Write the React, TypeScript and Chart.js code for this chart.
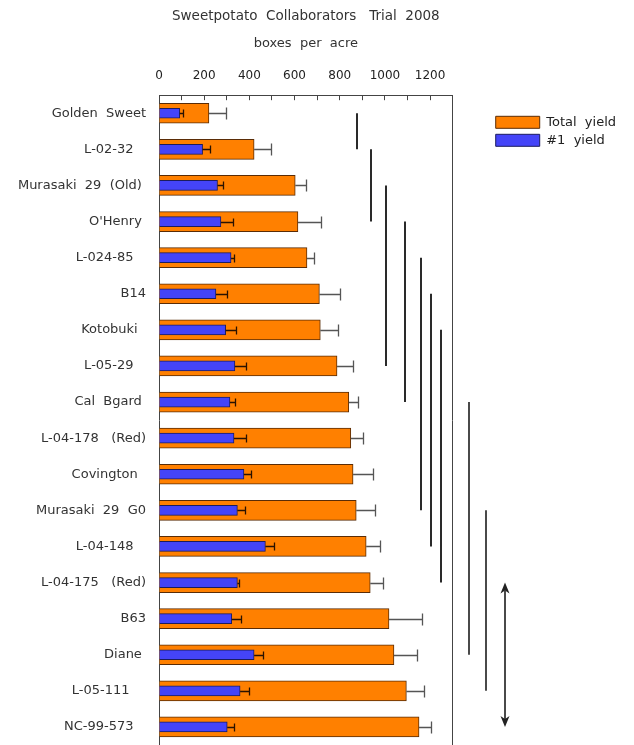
import React, { useEffect, useRef } from 'react';
import { Chart, registerables } from 'chart.js';

Chart.register(...registerables);

// ---- data ----
const categories = [
  'Golden  Sweet',
  'L-02-32',
  'Murasaki  29  (Old)',
  "O'Henry",
  'L-024-85',
  'B14',
  'Kotobuki',
  'L-05-29',
  'Cal  Bgard',
  'L-04-178   (Red)',
  'Covington',
  'Murasaki  29  G0',
  'L-04-148',
  'L-04-175   (Red)',
  'B63',
  'Diane',
  'L-05-111',
  'NC-99-573',
];
const totalYield = [221, 421, 603, 615, 655, 710, 714, 788, 840, 849, 859, 873, 917, 935, 1018, 1040, 1095, 1151];
const totalErr = [75, 75, 49, 102, 30, 90, 77, 70, 42, 55, 89, 83, 61, 58, 148, 101, 76, 55];
const no1Yield = [92, 193, 259, 274, 319, 252, 295, 336, 314, 332, 376, 347, 471, 347, 322, 421, 359, 302];
const no1Err = [15, 32, 23, 52, 13, 50, 46, 49, 22, 53, 30, 34, 40, 9, 40, 39, 41, 31];
const xTickLabels = [0, 200, 400, 600, 800, 1000, 1200];
// significance groups (first and last category index of each group)
const groupStart = [0, 1, 2, 3, 4, 5, 6, 8, 11, 13];
const groupEnd = [1, 3, 7, 8, 11, 12, 13, 15, 16, 17];

// ---- style-only (label right-edge offsets and group column placement) ----
const labelTrail = [0, 3, 1, 1, 3, 0, 2, 3, 1, 0, 2, 0, 3, 0, 0, 1, 4, 3];
const groupColumnX = [877, 940, 1003, 1088, 1161, 1205, 1248, 1373, 1448, 1533];

const errorBarPlugin = {
  id: 'errorBars',
  afterDatasetsDraw(chart: any) {
    const ctx = chart.ctx;
    const xs = chart.scales.x;
    chart.data.datasets.forEach((ds: any, di: number) => {
      const meta = chart.getDatasetMeta(di);
      const errs: number[] = ds.errors;
      const cap = ds.capHalf;
      ctx.save();
      ctx.strokeStyle = ds.errorColor;
      ctx.lineWidth = 1.3;
      meta.data.forEach((bar: any, i: number) => {
        const x0 = bar.x;
        const y = Math.round(bar.y) + 0.5;
        const x1 = Math.round(xs.getPixelForValue(ds.data[i] + errs[i])) + 0.5;
        ctx.beginPath();
        ctx.moveTo(x0, y);
        ctx.lineTo(x1, y);
        ctx.moveTo(x1, y - cap);
        ctx.lineTo(x1, y + cap);
        ctx.stroke();
      });
      ctx.restore();
    });
  },
};

const groupLinesPlugin = {
  id: 'groupLines',
  afterDraw(chart: any) {
    const ctx = chart.ctx;
    const xs = chart.scales.x;
    const ys = chart.scales.y;
    ctx.save();
    groupStart.forEach((s, i) => {
      const x = Math.round(xs.getPixelForValue(groupColumnX[i]));
      const y1 = ys.getPixelForValue(s);
      const y2 = ys.getPixelForValue(groupEnd[i]);
      const isArrow = i === groupStart.length - 1;
      ctx.strokeStyle = groupColumnX[i] > 1300 ? '#4a4a4a' : '#2a2a2a';
      ctx.fillStyle = '#222';
      ctx.lineWidth = 2;
      ctx.beginPath();
      if (isArrow) {
        ctx.moveTo(x, y1 + 8);
        ctx.lineTo(x, y2 - 8);
        ctx.stroke();
        ctx.beginPath();
        ctx.moveTo(x, y1);
        ctx.lineTo(x - 4.5, y1 + 11);
        ctx.lineTo(x, y1 + 8);
        ctx.lineTo(x + 4.5, y1 + 11);
        ctx.closePath();
        ctx.fill();
        ctx.beginPath();
        ctx.moveTo(x, y2);
        ctx.lineTo(x - 4.5, y2 - 11);
        ctx.lineTo(x, y2 - 8);
        ctx.lineTo(x + 4.5, y2 - 11);
        ctx.closePath();
        ctx.fill();
      } else {
        ctx.moveTo(x, y1);
        ctx.lineTo(x, y2);
        ctx.stroke();
      }
    });
    ctx.restore();
  },
};

export default function App() {
  const canvasRef = useRef<HTMLCanvasElement | null>(null);

  useEffect(() => {
    document.documentElement.style.overflow = 'hidden';
    document.body.style.overflow = 'hidden';
    const canvas = canvasRef.current;
    if (!canvas) return;
    const font = 'DejaVu Sans';
    const chart = new Chart(canvas, {
      type: 'bar',
      data: {
        labels: categories,
        datasets: [
          {
            label: 'Total  yield',
            data: totalYield,
            errors: totalErr,
            errorColor: '#555555',
            capHalf: 6,
            backgroundColor: '#ff8000',
            borderColor: '#5a2c06',
            borderWidth: 1,
            barThickness: 20,
            grouped: false,
            order: 1,
          } as any,
          {
            label: '#1  yield',
            data: no1Yield,
            errors: no1Err,
            errorColor: '#2a1200',
            capHalf: 4,
            backgroundColor: '#4444f8',
            borderColor: '#1c1c5e',
            borderWidth: 1,
            barThickness: 10,
            grouped: false,
            order: 0,
          } as any,
        ],
      },
      options: {
        indexAxis: 'y',
        responsive: false,
        animation: false,
        font: { family: font },
        layout: { padding: 0 },
        scales: {
          x: {
            type: 'linear',
            position: 'top',
            min: 0,
            max: 1300,
            ticks: {
              stepSize: 100,
              autoSkip: false,
              maxRotation: 0,
              padding: 17,
              color: '#222',
              font: { family: font, size: 12 },
              callback: (v: any) => (xTickLabels.includes(Number(v)) ? String(v) : ''),
            },
            grid: { drawOnChartArea: false, drawTicks: true, tickLength: -5, color: '#444', lineWidth: 1 },
            border: { display: true, color: '#444', width: 1 },
          },
          y: {
            type: 'category',
            position: 'left',
            grid: { display: false, drawTicks: false },
            border: { display: true, color: '#444', width: 1 },
            ticks: {
              autoSkip: false,
              padding: 13,
              color: '#333',
              font: { family: font, size: 13 },
              callback: (_v: any, i: number) => categories[i] + ' '.repeat(labelTrail[i]),
            },
            afterFit: (s: any) => {
              s.width = 151;
              s.paddingTop = 0;
              s.paddingBottom = 0;
            },
          },
          y2: {
            type: 'category',
            position: 'right',
            labels: categories,
            grid: { display: false, drawTicks: false },
            ticks: { display: false },
            border: { display: true, color: '#444', width: 1 },
            afterFit: (s: any) => {
              s.width = 38;
              s.paddingTop = 0;
              s.paddingBottom = 0;
            },
          },
        } as any,
        plugins: {
          title: {
            display: true,
            text: 'Sweetpotato  Collaborators   Trial  2008',
            fullSize: false,
            color: '#333',
            font: { family: font, size: 13.5, weight: 'normal' },
            padding: { top: 0, bottom: 12 },
          },
          subtitle: {
            display: true,
            text: 'boxes  per  acre',
            fullSize: false,
            color: '#333',
            font: { family: font, size: 13, weight: 'normal' },
            padding: { top: 0, bottom: 0 },
          },
          legend: {
            position: 'right',
            align: 'start',
            fullSize: false,
            maxWidth: 220,
            title: { display: true, text: '', padding: 0, font: { family: font, size: 13 } },
            labels: {
              boxWidth: 44,
              boxHeight: 12,
              padding: 5,
              color: '#222',
              font: { family: font, size: 13 },
              sort: (a: any, b: any) => a.datasetIndex - b.datasetIndex,
            },
          },
          tooltip: { enabled: false },
        } as any,
      },
      plugins: [errorBarPlugin, groupLinesPlugin],
    } as any);
    return () => chart.destroy();
  }, []);

  return (
    <div style={{ width: 618, height: 737, overflow: 'hidden' }}>
      <canvas ref={canvasRef} width={618} height={737} style={{ display: 'block' }} />
    </div>
  );
}
